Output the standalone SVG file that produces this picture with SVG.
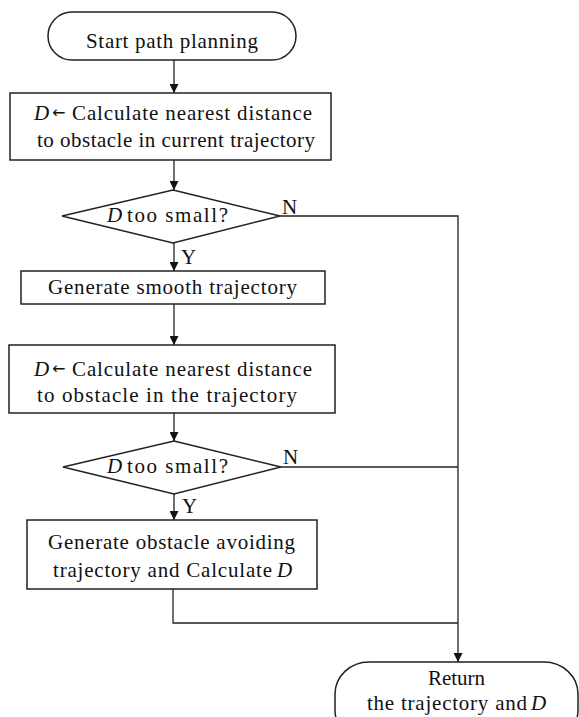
<svg xmlns="http://www.w3.org/2000/svg" width="579" height="717" viewBox="0 0 579 717">
<style>
.shape{fill:#fff;stroke:#222;stroke-width:1.5}
.conn{fill:none;stroke:#222;stroke-width:1.3}
text{font-family:"Liberation Serif","Times New Roman",serif;font-size:21px;fill:#111}
.i{font-style:italic}
.arr{font-family:"DejaVu Sans","Liberation Sans",sans-serif;font-size:16px}
</style>
<defs>
<marker id="ah" viewBox="0 0 10 10" refX="10" refY="5" markerWidth="9" markerHeight="9" markerUnits="userSpaceOnUse" orient="auto">
<path d="M0,0 L10,5 L0,10 Z" fill="#111"/>
</marker>
</defs>
<rect width="579" height="717" fill="#fff"/>
<g id="connectors">
<line class="conn" x1="174" y1="60" x2="174" y2="93" marker-end="url(#ah)"/>
<line class="conn" x1="174" y1="160" x2="174" y2="190" marker-end="url(#ah)"/>
<line class="conn" x1="174" y1="243" x2="174" y2="271" marker-end="url(#ah)"/>
<line class="conn" x1="174" y1="304" x2="174" y2="345" marker-end="url(#ah)"/>
<line class="conn" x1="174" y1="413" x2="174" y2="441" marker-end="url(#ah)"/>
<line class="conn" x1="174" y1="494" x2="174" y2="520" marker-end="url(#ah)"/>
<path class="conn" d="M280,216 H458 V662" marker-end="url(#ah)"/>
<path class="conn" d="M281,467 H458"/>
<path class="conn" d="M173,589 V623 H458"/>
<text x="282" y="214">N</text>
<text x="181" y="264">Y</text>
<text x="283" y="464">N</text>
<text x="182" y="513">Y</text>
</g>
<g id="start">
<rect class="shape" x="48" y="12" width="248" height="48" rx="24" ry="24"/>
<text x="86" y="48" textLength="172" lengthAdjust="spacing">Start path planning</text>
</g>
<g id="calc1">
<rect class="shape" x="10" y="93" width="321" height="67"/>
<text class="i" x="34" y="120">D</text>
<text class="arr" x="52" y="118">←</text>
<text x="72" y="120" textLength="240" lengthAdjust="spacing">Calculate nearest distance</text>
<text x="37" y="147" textLength="278" lengthAdjust="spacing">to obstacle in current trajectory</text>
</g>
<g id="check1">
<polygon class="shape" points="173,190 280,216 173,243 62,216"/>
<text class="i" x="107" y="222">D</text>
<text x="127" y="222" textLength="101" lengthAdjust="spacing">too small?</text>
</g>
<g id="smooth">
<rect class="shape" x="21" y="271" width="304" height="33"/>
<text x="48" y="294" textLength="249" lengthAdjust="spacing">Generate smooth trajectory</text>
</g>
<g id="calc2">
<rect class="shape" x="9" y="345" width="326" height="68"/>
<text class="i" x="34" y="376">D</text>
<text class="arr" x="52" y="374">←</text>
<text x="72" y="376" textLength="240" lengthAdjust="spacing">Calculate nearest distance</text>
<text x="37" y="402" textLength="260" lengthAdjust="spacing">to obstacle in the trajectory</text>
</g>
<g id="check2">
<polygon class="shape" points="174,441 281,467 174,494 63,467"/>
<text class="i" x="107" y="473">D</text>
<text x="127" y="473" textLength="101" lengthAdjust="spacing">too small?</text>
</g>
<g id="avoid">
<rect class="shape" x="27" y="520" width="290" height="69"/>
<text x="48" y="549" textLength="247" lengthAdjust="spacing">Generate obstacle avoiding</text>
<text x="53" y="577" textLength="219" lengthAdjust="spacing">trajectory and Calculate</text>
<text class="i" x="277" y="577">D</text>
</g>
<g id="return">
<rect class="shape" x="335" y="662" width="243" height="80" rx="34" ry="32"/>
<text x="428" y="685" textLength="57" lengthAdjust="spacing">Return</text>
<text x="367" y="710" textLength="160" lengthAdjust="spacing">the trajectory and</text>
<text class="i" x="531" y="710">D</text>
</g>
</svg>
